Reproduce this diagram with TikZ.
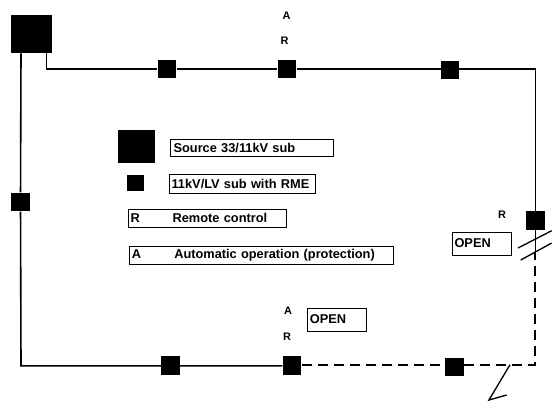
\documentclass[tikz,border=0pt]{standalone}
\usepackage{fontspec}
\setmainfont{Liberation Sans}
\tikzset{
  sq/.style={fill=black,inner sep=0pt,minimum size=14pt},
  wire/.style={line width=1.2pt,black},
  dashwire/.style={line width=1.4pt,black,dash pattern=on 7.5pt off 4.5pt},
  lbl/.style={font=\bfseries\fontsize{8.2pt}{9pt}\selectfont,inner sep=0pt,text=black},
  bx/.style={draw=black,line width=0.7pt,font=\bfseries\fontsize{9.6pt}{10pt}\selectfont,inner sep=0pt,anchor=north west,align=left}
}
\begin{document}
\begin{tikzpicture}[x=0.75pt,y=-0.75pt]
\useasboundingbox (0,0) rectangle (552,401);
% substations
\node[sq,minimum width=31pt,minimum height=28.5pt] (src) at (31.5,34) {};
\node[sq] (t1) at (167,69) {};
\node[sq] (t2) at (287,69) {};
\node[sq] (t3) at (450,70) {};
\node[sq] (rs) at (535.3,220.5) {};
\node[sq] (ls) at (20.5,202) {};
\node[sq] (b1) at (170.5,365.8) {};
\node[sq] (b2) at (292,365.8) {};
\node[sq] (b3) at (454.3,367) {};
\coordinate (tl) at (46.5,69);
\coordinate (tr) at (535.3,69);
\coordinate (bl) at (21,365.8);
\coordinate (cut) at (535.3,252);
\coordinate (br) at (535.3,364.7);
\coordinate (z1) at (510,364.7);
\coordinate (z2) at (489,400);
\coordinate (z3) at (506.7,395);
\coordinate (s1a) at (518,248);
\coordinate (s1b) at (551.7,230.7);
\coordinate (s2a) at (520.7,260);
\coordinate (s2b) at (551.7,243);
% network
\draw[wire] (src.south -| tl) -- (tl) -- (t1) -- (t2) -- (t3.west |- tl) -- (tr) -- (rs);
\draw[wire] (rs) -- (cut);
\draw[wire] (src.south -| bl) -- (ls) -- (bl) -- (b1) -- (b2);
\draw[dashwire] (b2.east |- br) -- (b3.west |- br);
\draw[dashwire] (b3.east |- br) -- (br) -- (cut);
\draw[wire,line width=1pt] (s1a) -- (s1b);
\draw[wire,line width=1pt] (s2a) -- (s2b);
\draw[wire,line width=1pt] (z1) -- (z2) -- (z3);
% labels
\node[lbl] (a1) at (286.5,16) {A};
\node[lbl] (r1) at (284.5,41) {R};
\node[lbl] (r2) at (502,215) {R};
\node[lbl] (a2) at (288,310.5) {A};
\node[lbl] (r3) at (287,337) {R};
\node[bx,minimum width=44.5pt,minimum height=17pt,text width=43pt] (o1) at (451.7,232) {\hspace*{1pt}\raisebox{0.9pt}{OPEN}};
\node[bx,minimum width=44.5pt,minimum height=17pt,text width=43pt] (o2) at (307,308) {\hspace*{1pt}\raisebox{1.5pt}{OPEN}};
% legend
\node[sq,minimum width=27.5pt,minimum height=25pt] (ks) at (136.5,146.5) {};
\node[sq,minimum width=13pt,minimum height=12pt] (ks2) at (135.5,183) {};
\node[bx,minimum width=121.8pt,minimum height=12.5pt,text width=120pt] (k1) at (170.3,139) {\hspace*{1.2pt}\raisebox{-0.5pt}{Source 33/11kV sub}};
\node[bx,minimum width=109.3pt,minimum height=13.8pt,text width=108pt] (k2) at (169.3,174.3) {\hspace*{0.7pt}11kV/LV sub with RME};
\node[bx,minimum width=118.7pt,minimum height=13.3pt,text width=117pt] (k3) at (127.7,209) {\hspace*{1pt}\makebox[31.5pt][l]{R}Remote control};
\node[bx,minimum width=198pt,minimum height=14pt,text width=196pt] (k4) at (129,245.7) {\hspace*{0.8pt}\makebox[31.8pt][l]{\raisebox{-0.5pt}{A}}\raisebox{-0.5pt}{Automatic operation (protection)}};
\end{tikzpicture}
\end{document}
